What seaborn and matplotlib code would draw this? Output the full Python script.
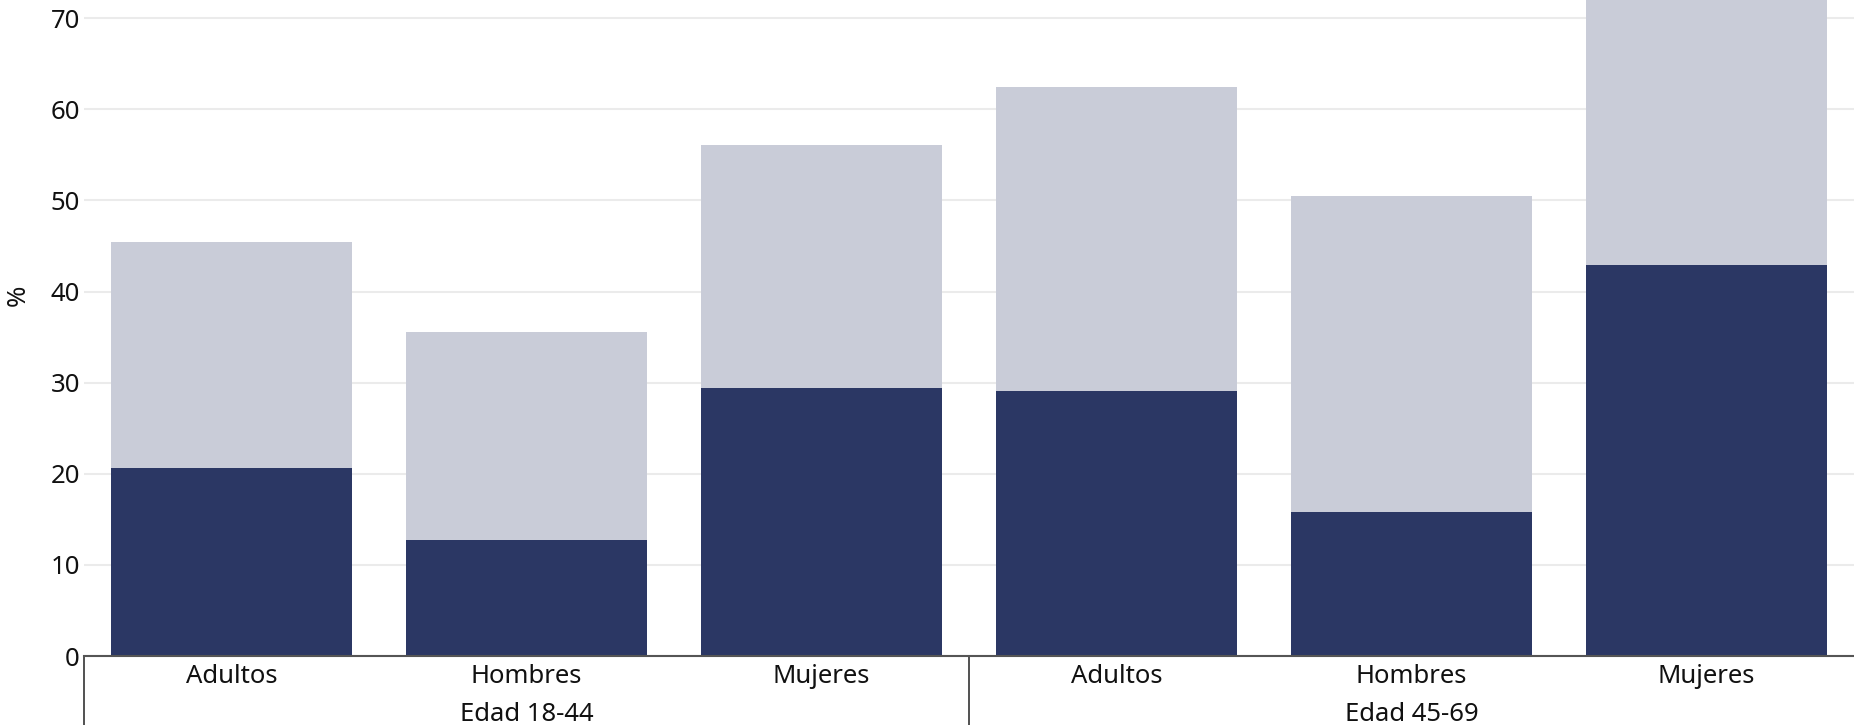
import pandas as pd
import matplotlib.pyplot as plt
import matplotlib.transforms as mtransforms
import seaborn as sns

# datos
edades = ['Edad 18-44', 'Edad 45-69']
grupos = ['Adultos', 'Hombres', 'Mujeres']
oscuro = [20.6, 12.7, 29.4, 29.1, 15.8, 42.9]
total = [45.4, 35.6, 56.1, 62.5, 50.5, 78.0]

claves = [e + ' ' + g for e in edades for g in grupos]
datos = pd.DataFrame({'clave': claves, 'oscuro': oscuro, 'total': total})

sns.set_style('white')
plt.rcParams['font.family'] = ['Noto Sans', 'DejaVu Sans']

fig = plt.figure(figsize=(18.54, 7.25), dpi=100)
ax = fig.add_axes([0.0453, 0.095, 0.9547, 0.905])

sns.barplot(data=datos, x='clave', y='total', order=claves, color='#c9ccd8',
            saturation=1, width=0.82, linewidth=0, ax=ax, zorder=2)
sns.barplot(data=datos, x='clave', y='oscuro', order=claves, color='#2b3764',
            saturation=1, width=0.82, linewidth=0, ax=ax, zorder=3)

ax.set_ylim(0, 72)
ax.set_xlim(-0.5, 5.5)
ax.set_yticks(range(0, 80, 10))
ax.yaxis.grid(True, color='#ebebeb', linewidth=1.5, zorder=0)
ax.set_axisbelow(True)
for s in ['top', 'right', 'left']:
    ax.spines[s].set_visible(False)
ax.spines['bottom'].set_color('#555555')
ax.spines['bottom'].set_linewidth(1.5)
ax.spines['bottom'].set_zorder(4)

ax.set_xticks(range(6))
ax.set_xticklabels(grupos * 2)
ax.tick_params(axis='both', length=0, labelsize=18.5, colors='#111111')
ax.tick_params(axis='y', pad=3)
ax.tick_params(axis='x', pad=6)
ax.set_xlabel('')
ax.set_ylabel('%', fontsize=18.5, color='#111111')
ax.yaxis.set_label_coords(-0.03, 0.55)

# separadores de grupos de edad
trans = mtransforms.blended_transform_factory(ax.transData, ax.transAxes)
for xs in [-0.5, 2.5]:
    ax.plot([xs, xs], [0, -0.2], transform=trans, color='#333333',
            linewidth=1.2, clip_on=False)
for i, e in enumerate(edades):
    ax.text(3 * i + 1, -0.089, e, transform=trans, ha='center', va='center',
            fontsize=18.5, color='#111111')

fig.savefig('out.png', dpi=100)
